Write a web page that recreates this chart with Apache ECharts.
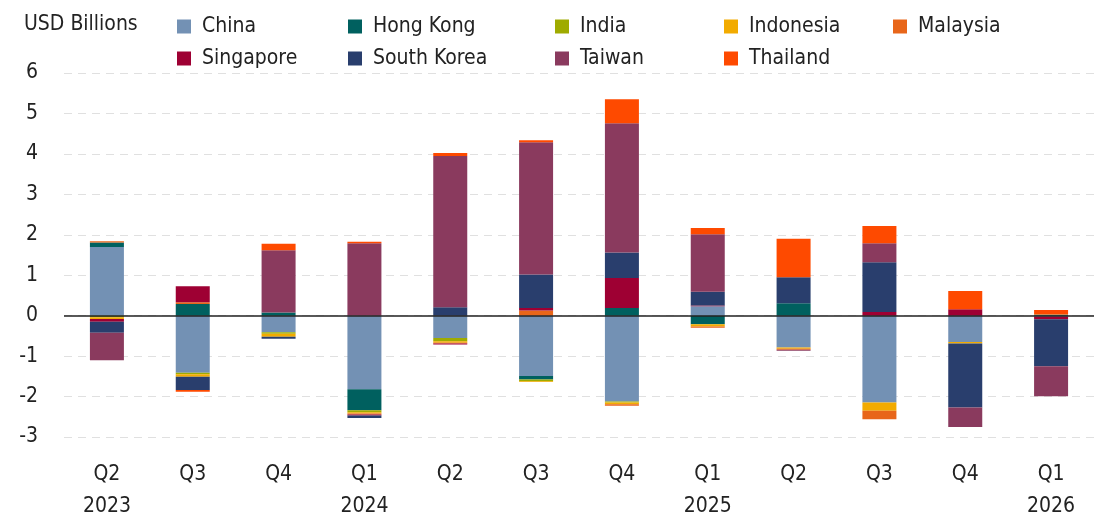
<!DOCTYPE html>
<html>
<head>
	<meta charset="utf-8" />
	<title>USD Billions by economy</title>
	<style>
		html, body { margin: 0; padding: 0; background: #fff; }
		#main { width: 1108px; height: 525px; }
	</style>
</head>
<body>
	<div id="main"></div>
	<script src="https://cdn.jsdelivr.net/npm/echarts@6/dist/echarts.min.js"></script>
	<script>
		// quarters
		const quarters = ['Q2\n2023', 'Q3', 'Q4', 'Q1\n2024', 'Q2', 'Q3', 'Q4', 'Q1\n2025', 'Q2', 'Q3', 'Q4', 'Q1\n2026'];

		// values per economy, USD billions
		const china      = [1.70, -1.41, -0.41, -1.82, -0.55, -1.49, -2.12, 0.23, -0.79, -2.15, -0.65, -0.02];
		const hongKong   = [0.11, 0.29, 0.08, -0.52, 0, -0.09, 0.19, -0.21, 0.31, 0, 0, 0.02];
		const india      = [-0.04, -0.04, -0.04, -0.05, -0.08, -0.04, -0.03, 0, 0, 0, 0, 0.01];
		const indonesia  = [-0.04, -0.06, -0.07, -0.03, -0.04, -0.02, -0.04, -0.06, -0.03, -0.20, -0.04, 0];
		const malaysia   = [0.03, 0.04, 0, -0.025, -0.02, 0.13, -0.04, -0.03, -0.02, -0.21, 0, 0];
		const singapore  = [-0.07, 0.40, 0, -0.025, -0.02, 0.06, 0.74, 0.02, 0, 0.09, 0.16, -0.07];
		const southKorea = [-0.27, -0.33, -0.05, -0.06, 0.21, 0.83, 0.63, 0.34, 0.64, 1.23, -1.58, -1.16];
		const taiwan     = [-0.68, 0, 1.54, 1.79, 3.74, 3.27, 3.20, 1.42, -0.03, 0.47, -0.48, -0.74];
		const thailand   = [0, -0.04, 0.16, 0.04, 0.07, 0.05, 0.59, 0.16, 0.95, 0.43, 0.45, 0.11];

		const names = ['China', 'Hong Kong', 'India', 'Indonesia', 'Malaysia', 'Singapore', 'South Korea', 'Taiwan', 'Thailand'];
		const values = [china, hongKong, india, indonesia, malaysia, singapore, southKorea, taiwan, thailand];
		const colors = ['#7391b4', '#00605f', '#9fab00', '#f2ab00', '#e8661a', '#9e0033', '#293e6d', '#8a3a5e', '#fe4a00'];

		const font = "'Liberation Sans Narrow', 'DejaVu Sans Condensed', sans-serif";
		const textColor = '#222';

		// legend slots: 5 columns, 2 rows
		const legendLeft = [172, 343, 550, 719, 888];
		const legendTop = [11, 43];

		const chart = echarts.init(document.getElementById('main'));

		const legends = names.map(function (n, i) {
			return {
				data: [n],
				left: legendLeft[i % 5],
				top: legendTop[Math.floor(i / 5)],
				icon: 'rect',
				itemWidth: 14,
				itemHeight: 14,
				selectedMode: false,
				textStyle: {
					fontFamily: font,
					fontSize: 21,
					color: textColor,
					padding: [0, 0, 0, 6]
				}
			};
		});

		const series = names.map(function (n, i) {
			const s = {
				name: n,
				type: 'bar',
				stack: 'total',
				barWidth: 34,
				itemStyle: { color: colors[i] },
				data: values[i]
			};
			if (i === 0) {
				s.markLine = {
					silent: true,
					symbol: ['none', 'none'],
					label: { show: false },
					lineStyle: { color: '#222', width: 1.5, type: 'solid' },
					data: [{ yAxis: 0 }]
				};
			}
			return s;
		});

		chart.setOption({
			animation: false,
			title: {
				text: 'USD Billions',
				left: 19,
				top: 9,
				textStyle: {
					fontFamily: font,
					fontSize: 21,
					fontWeight: 'normal',
					color: textColor
				}
			},
			legend: legends,
			grid: {
				left: 64,
				right: 14,
				top: 73,
				bottom: 88
			},
			xAxis: {
				type: 'category',
				data: quarters,
				axisLine: { show: false },
				axisTick: { show: false },
				axisLabel: {
					margin: 22,
					fontFamily: font,
					fontSize: 21,
					lineHeight: 32,
					color: textColor
				}
			},
			yAxis: {
				type: 'value',
				min: -3,
				max: 6,
				interval: 1,
				axisLine: { show: false },
				axisTick: { show: false },
				axisLabel: {
					margin: 26,
					fontFamily: font,
					fontSize: 21,
					color: textColor
				},
				splitLine: {
					lineStyle: { color: '#e0e0e0', type: [8, 6], width: 1 }
				}
			},
			series: series
		});

		window.onresize = function () {
			chart.resize();
		};
	</script>
</body>
</html>
